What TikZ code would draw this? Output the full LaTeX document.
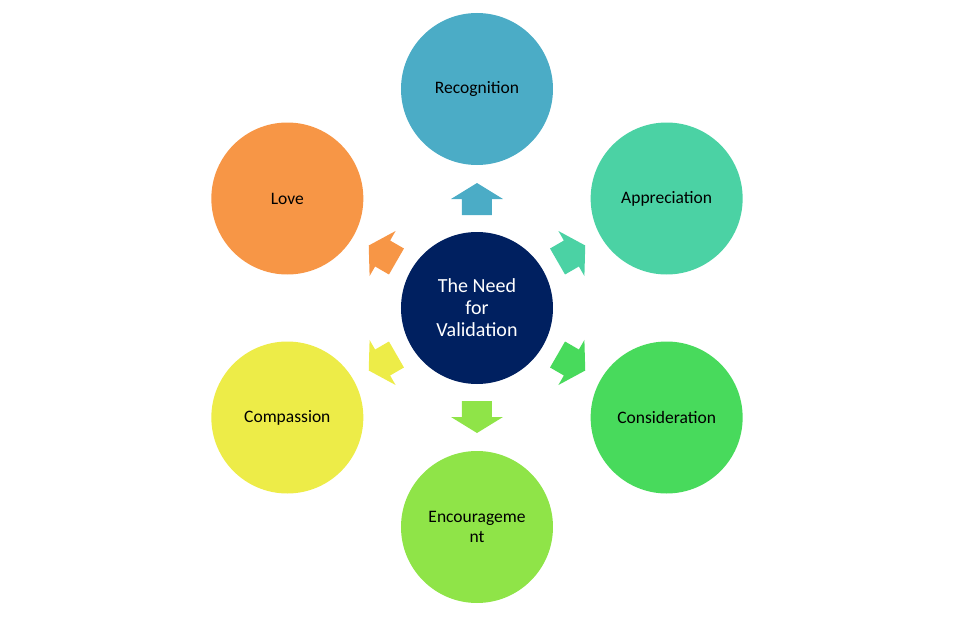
\documentclass[tikz,border=0pt]{standalone}
\usepackage{fontspec}
\setmainfont{Carlito}
\definecolor{cCenter}{HTML}{002060}
\definecolor{cRec}{HTML}{4BACC6}
\definecolor{cApp}{HTML}{4BD2A4}
\definecolor{cCon}{HTML}{48DA5C}
\definecolor{cEnc}{HTML}{8FE448}
\definecolor{cCom}{HTML}{EDEC48}
\definecolor{cLove}{HTML}{F79646}
\tikzset{
  outer/.style={circle, minimum size=152pt, inner sep=0pt, align=center, font=\fontsize{17.5}{20}\selectfont, text=black},
  center/.style={circle, minimum size=152pt, inner sep=0pt, fill=cCenter, align=center, text=white, font=\fontsize{20}{22}\selectfont},
}
\begin{document}
\begin{tikzpicture}[x=1pt,y=1pt]
\useasboundingbox (-477,-314) rectangle (485,308);
\node[center] (c) at (0,0) {The Need\\for\\Validation};
\node[outer, fill=cRec] (rec) at (90:219) {Recognition};
\node[outer, fill=cApp] (app) at (30:219) {Appreciation};
\node[outer, fill=cCon] (con) at (-30:219) {Consideration};
\node[outer, fill=cEnc] (enc) at (-90:219) {Encourageme\\nt};
\node[outer, fill=cCom] (com) at (210:219) {Compassion};
\node[outer, fill=cLove] (love) at (150:219) {Love};
\foreach \ang/\col in {90/cRec,30/cApp,-30/cCon,-90/cEnc,210/cCom,150/cLove}{
  \fill[\col, rotate=\ang] (93,-15) -- (109,-15) -- (109,-26) -- (125,0) -- (109,26) -- (109,15) -- (93,15) -- cycle;
}
\end{tikzpicture}
\end{document}
